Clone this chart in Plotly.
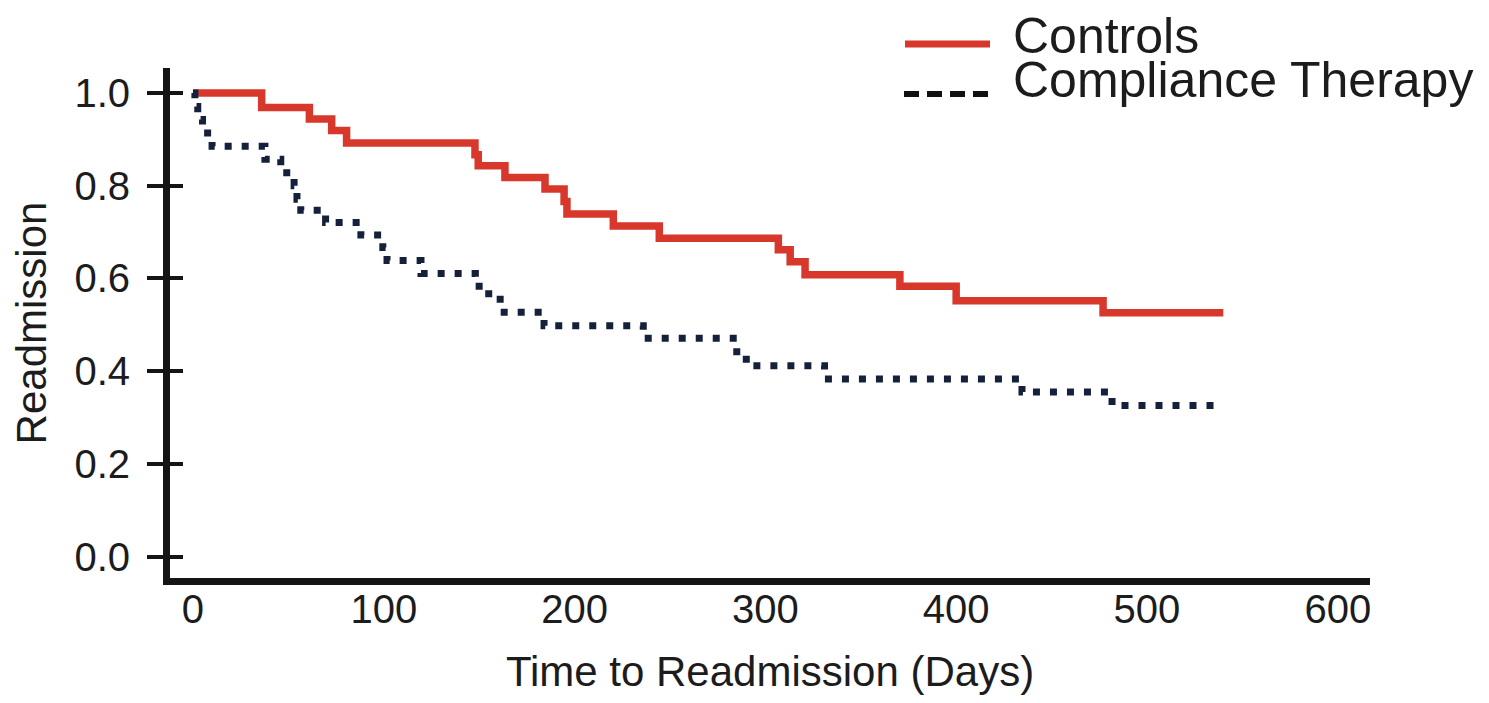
import plotly.graph_objects as go

# Kaplan-Meier style step data
controls_days = [0, 36, 61, 72.7, 80.5, 147.8, 149.5, 163.5, 184.5, 194.5, 196, 220.3, 244.4,
                 306.8, 313, 320.8, 370.5, 400, 477, 540]
controls_surv = [1.0, 0.969, 0.944, 0.919, 0.892, 0.867, 0.843, 0.818, 0.793, 0.766, 0.739, 0.713, 0.687,
                 0.662, 0.636, 0.608, 0.583, 0.552, 0.526, 0.526]

ct_days = [0, 1, 2.5, 5, 10, 37.7, 46, 53, 54.5, 56.5, 69.5, 88, 99.5, 101.7, 119.5,
           148, 155, 161, 184, 236, 285, 290, 331, 434.5, 481.7, 538]
ct_surv = [1.0, 0.971, 0.943, 0.914, 0.885, 0.857, 0.828, 0.800, 0.771, 0.747, 0.721, 0.694, 0.667, 0.639, 0.611,
           0.583, 0.555, 0.527, 0.498, 0.471, 0.442, 0.412, 0.383, 0.355, 0.326, 0.326]

x_ticks = [0, 100, 200, 300, 400, 500, 600]
y_ticks = [0.0, 0.2, 0.4, 0.6, 0.8, 1.0]
y_tick_text = ["0.0", "0.2", "0.4", "0.6", "0.8", "1.0"]

RED = "#d8382c"
NAVY = "#15203a"
AXC = "#151515"
FONT = "Liberation Sans, Arial, sans-serif"

fig = go.Figure()
fig.add_trace(go.Scatter(x=controls_days, y=controls_surv, mode="lines", name="Controls",
                         line=dict(color=RED, width=7.5, shape="hv"), showlegend=False))
fig.add_trace(go.Scatter(x=ct_days, y=ct_surv, mode="lines", name="Compliance Therapy",
                         line=dict(color=NAVY, width=7, shape="hv", dash="7px,10px"), showlegend=False))

X_RANGE = [-12.05, 616.9]
Y_RANGE = [-0.046, 1.054]

# page has an 8px body margin, so the figure is 16px smaller and margins shifted by 8px
fig.update_layout(
    width=1473, height=687,
    margin=dict(l=162, r=111, t=60, b=117, autoexpand=False),
    paper_bgcolor="white", plot_bgcolor="white",
    font=dict(family=FONT, color="#1c1c1c"),
    xaxis=dict(range=X_RANGE, tickvals=x_ticks, ticks="", showgrid=False, zeroline=False,
               showline=True, linewidth=7, linecolor=AXC, tickfont=dict(size=40),
               ticklabelstandoff=-10,
               title=dict(text="Time to Readmission (Days)", font=dict(size=42), standoff=37)),
    yaxis=dict(range=Y_RANGE, tickvals=y_ticks, ticktext=y_tick_text, ticks="outside", ticklen=16,
               tickwidth=4, tickcolor=AXC, showgrid=False, zeroline=False,
               showline=True, linewidth=7, linecolor=AXC, tickfont=dict(size=40),
               ticklabelstandoff=9,
               title=dict(text="Readmission", font=dict(size=42), standoff=23)),
    yaxis2=dict(range=Y_RANGE, tickvals=y_ticks, ticks="inside", ticklen=13, tickwidth=4,
                tickcolor=AXC, showticklabels=False, showgrid=False, zeroline=False,
                showline=False, overlaying="y", side="left"),
    showlegend=False,
)

# invisible trace to activate yaxis2 for crossing tick marks
fig.add_trace(go.Scatter(x=[None], y=[None], yaxis="y2", showlegend=False, hoverinfo="skip"))

# manual legend (long line samples like the reference)
def px_x(p):
    return (p - 170) / 1200

def px_y(p):
    return (578 - p) / 510

fig.add_shape(type="line", xref="paper", yref="paper", x0=px_x(905), x1=px_x(990),
              y0=px_y(44), y1=px_y(44), line=dict(color=RED, width=7))
fig.add_shape(type="line", xref="paper", yref="paper", x0=px_x(904), x1=px_x(990),
              y0=px_y(94), y1=px_y(94), line=dict(color="#111111", width=6, dash="15px,8px"))
fig.add_annotation(xref="paper", yref="paper", x=px_x(1011), y=px_y(54), text="Controls",
                   showarrow=False, xanchor="left", yanchor="bottom", yshift=-12,
                   font=dict(size=50, family=FONT))
fig.add_annotation(xref="paper", yref="paper", x=px_x(1011), y=px_y(98), text="Compliance Therapy",
                   showarrow=False, xanchor="left", yanchor="bottom", yshift=-12,
                   font=dict(size=50, family=FONT))

fig.write_html("out.html")
